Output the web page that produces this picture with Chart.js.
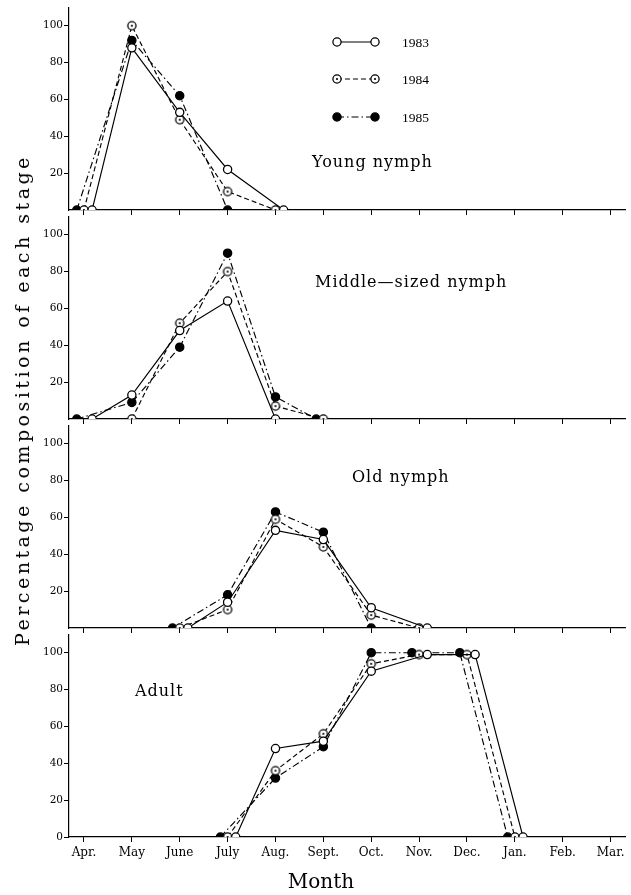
<!DOCTYPE html>
<html>
<head>
<meta charset="utf-8">
<script src="https://cdn.jsdelivr.net/npm/chart.js"></script>
<style>
  html, body { margin: 0; padding: 0; background: #fff; }
  #wrap { position: relative; width: 631px; height: 895px; overflow: hidden; }
  canvas { position: absolute; left: 0; }
  .ttl { position: absolute; font-family: 'DejaVu Serif', serif; color: #000; white-space: nowrap; }
  #ytitle { left: 22px; top: 400px; font-size: 19px; letter-spacing: 3.5px; transform: translate(-50%, -50%) rotate(-90deg); }
  #xtitle { left: 321px; top: 881px; font-size: 20px; transform: translate(-50%, -50%); }
</style>
</head>
<body>
<div id="wrap">
  <canvas id="p1" width="631" height="218" style="top:0px"></canvas>
  <canvas id="p2" width="631" height="218" style="top:209px"></canvas>
  <canvas id="p3" width="631" height="218" style="top:418px"></canvas>
  <canvas id="p4" width="631" height="268" style="top:627px"></canvas>
  <div class="ttl" id="ytitle">Percentage composition of each stage</div>
  <div class="ttl" id="xtitle">Month</div>
</div>
<script>
const months = ['Apr.', 'May', 'June', 'July', 'Aug.', 'Sept.', 'Oct.', 'Nov.', 'Dec.', 'Jan.', 'Feb.', 'Mar.'];
const years = ['1983', '1984', '1985'];
const yTicksUpper = [20, 40, 60, 80, 100];
const yTicksBottom = [0, 20, 40, 60, 80, 100];

// Young nymph
const young1983 = [0, 88, 53, 22, 0, null, null, null, null, null, null, null];
const young1984 = [0, 100, 49, 10, 0, null, null, null, null, null, null, null];
const young1985 = [0, 92, 62, 0, null, null, null, null, null, null, null, null];

// Middle-sized nymph
const middle1983 = [0, 13, 48, 64, 0, null, null, null, null, null, null, null];
const middle1984 = [null, 0, 52, 80, 7, 0, null, null, null, null, null, null];
const middle1985 = [0, 9, 39, 90, 12, 0, null, null, null, null, null, null];

// Old nymph
const old1983 = [null, null, 0, 14, 53, 48, 11, 0, null, null, null, null];
const old1984 = [null, null, 0, 10, 59, 44, 7, 0, null, null, null, null];
const old1985 = [null, null, 0, 18, 63, 52, 0, null, null, null, null, null];

// Adult
const adult1983 = [null, null, null, 0, 48, 52, 90, 99, 99, 0, null, null];
const adult1984 = [null, null, null, 0, 36, 56, 94, 99, 99, 0, null, null];
const adult1985 = [null, null, null, 0, 32, 49, 100, 100, 100, 0, null, null];

// small sideways shift (in months) when points of different years overlap
const shift = [0.17, 0, -0.15];

const R = 4.1;

function makeDotCircle() {
    const c = document.createElement('canvas');
    c.width = 12; c.height = 12;
    const g = c.getContext('2d');
    g.beginPath(); g.arc(6, 6, R, 0, Math.PI * 2);
    g.fillStyle = '#fff'; g.fill();
    g.lineWidth = 1.3; g.strokeStyle = '#000'; g.stroke();
    g.beginPath(); g.arc(6, 6, 1.1, 0, Math.PI * 2);
    g.fillStyle = '#000'; g.fill();
    return c;
}
const dotCircle = makeDotCircle();

const markers = ['circle', dotCircle, 'circle'];
const fills = ['#fff', '#fff', '#000'];
const dashes = [[], [5, 3], [7, 3, 1.5, 3]];

function toPoints(series, k) {
    return series[k].map((v, i) => {
        if (v === null) return { x: i, y: null };
        const clash = series.some((s, j) => j !== k && s[i] !== null && Math.abs(s[i] - v) <= 2);
        return { x: i + (clash ? shift[k] : 0), y: v };
    });
}

function drawMarker(ctx, k, x, y) {
    if (k === 1) { ctx.drawImage(dotCircle, x - 6, y - 6); return; }
    ctx.beginPath(); ctx.arc(x, y, R, 0, Math.PI * 2);
    ctx.fillStyle = fills[k]; ctx.fill();
    ctx.lineWidth = 1.3; ctx.strokeStyle = '#000'; ctx.stroke();
}

const panelText = {
    id: 'panelText',
    afterDraw(chart, args, opts) {
        const ctx = chart.ctx;
        ctx.save();
        ctx.fillStyle = '#000';
        ctx.textBaseline = 'middle';
        ctx.font = '16px "DejaVu Serif"';
        ctx.letterSpacing = '1px';
        ctx.fillText(opts.text, opts.x, opts.y);
        ctx.letterSpacing = '0px';
        if (opts.legend) {
            const rows = [42, 79, 117];
            rows.forEach((ry, k) => {
                ctx.save();
                ctx.beginPath();
                ctx.setLineDash(dashes[k]);
                ctx.lineWidth = 1.1;
                ctx.strokeStyle = '#000';
                ctx.moveTo(337, ry); ctx.lineTo(375, ry);
                ctx.stroke();
                ctx.restore();
                drawMarker(ctx, k, 337, ry);
                drawMarker(ctx, k, 375, ry);
                ctx.fillStyle = '#000';
                ctx.font = '13.5px "Liberation Serif"';
                ctx.fillText(years[k], 402, ry + 1);
            });
        }
        ctx.restore();
    }
};

function makePanel(id, series, yTicks, bottom, text) {
    const datasets = series.map((s, k) => ({
        label: years[k],
        data: toPoints(series, k),
        borderColor: '#000',
        borderWidth: 1.15,
        borderDash: dashes[k],
        pointStyle: markers[k],
        pointRadius: R,
        pointBorderWidth: 1.3,
        pointBorderColor: '#000',
        pointBackgroundColor: fills[k],
        tension: 0,
        fill: false,
        spanGaps: false
    }));
    const config = {
        type: 'line',
        data: { datasets: datasets },
        options: {
            responsive: false,
            animation: false,
            events: [],
            layout: { padding: { top: 2, right: 4, left: 0, bottom: 0 } },
            plugins: {
                legend: { display: false },
                tooltip: { enabled: false },
                panelText: text
            },
            scales: {
                x: {
                    type: 'linear',
                    min: -0.3125,
                    max: 11.3125,
                    afterBuildTicks: (s) => { s.ticks = months.map((m, i) => ({ value: i })); },
                    afterFit: (s) => { s.height = bottom ? 58 : 8; },
                    ticks: {
                        display: bottom,
                        autoSkip: false,
                        maxRotation: 0,
                        padding: 4,
                        color: '#000',
                        font: { family: 'DejaVu Serif', size: 12 },
                        callback: (v) => months[v]
                    },
                    grid: { drawOnChartArea: false, drawTicks: true, tickLength: 5, color: '#000', lineWidth: 1 },
                    border: { display: true, color: '#000', width: 1.2 }
                },
                y: {
                    min: 0,
                    max: 110,
                    afterBuildTicks: (s) => { s.ticks = yTicks.map((v) => ({ value: v })); },
                    afterFit: (s) => { s.width = 69; },
                    ticks: {
                        padding: 1,
                        color: '#000',
                        font: { family: 'DejaVu Serif', size: 10.5 }
                    },
                    grid: { drawOnChartArea: false, drawTicks: true, tickLength: 5, color: '#000', lineWidth: 1 },
                    border: { display: true, color: '#000', width: 1.2 }
                }
            }
        },
        plugins: [panelText]
    };
    return new Chart(document.getElementById(id), config);
}

makePanel('p1', [young1983, young1984, young1985], yTicksUpper, false,
    { text: 'Young nymph', x: 312, y: 163, legend: true });
makePanel('p2', [middle1983, middle1984, middle1985], yTicksUpper, false,
    { text: 'Middle\u2014sized nymph', x: 315, y: 74 });
makePanel('p3', [old1983, old1984, old1985], yTicksUpper, false,
    { text: 'Old nymph', x: 352, y: 60 });
makePanel('p4', [adult1983, adult1984, adult1985], yTicksBottom, true,
    { text: 'Adult', x: 135, y: 65 });
</script>
</body>
</html>
